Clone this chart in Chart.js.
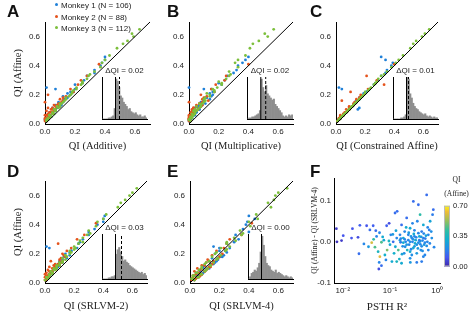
<!DOCTYPE html>
<html>
<head>
<meta charset="utf-8">
<script src="https://cdn.jsdelivr.net/npm/chart.js@4.4.1/dist/chart.umd.min.js"></script>
<style>
  body { margin: 0; background: #fff; }
  #fig { position: relative; width: 469px; height: 317px; overflow: hidden; font-family: "Liberation Sans", Arial, sans-serif; }
  #fig canvas { position: absolute; }
  .letter { position: absolute; font-weight: bold; font-size: 17px; line-height: 1; color: #111; }
  .leg { position: absolute; left: 55px; font-size: 8px; line-height: 1; color: #222; white-space: nowrap; }
  .leg i { display: inline-block; width: 3px; height: 3px; border-radius: 50%; margin-right: 3px; vertical-align: middle; position: relative; top: -1px; }
</style>
</head>
<body>
<div id="fig"></div>
<script>
const monkeys = ["Monkey 1 (N = 106)", "Monkey 2 (N = 88)", "Monkey 3 (N = 112)"];
const monkeyColors = ["#1f80d8", "#e5531c", "#7cbf3b"];

// QI (Affine) per neuron, y axis of panels A-E
const affineM1 = [0.25,0.24,0.46,0.44,0.42,0.40,0.37,0.35,0.33,0.30,0.28,0.27,0.24,0.22,0.21,0.20,0.19,0.18,0.17,0.16,0.15,0.14,0.13,0.12,0.11,0.10,0.09,0.08,0.07,0.06,0.05,0.04,0.03,0.02,
                  0.15,0.12,0.10,0.09,0.08,0.07,0.06,0.05,0.04,0.03,0.13,0.11,0.18,0.22];
const affineM2 = [0.41,0.33,0.30,0.27,0.24,0.22,0.20,0.19,0.17,0.16,0.15,0.14,0.13,0.12,0.11,0.10,0.10,0.09,0.08,0.08,0.07,0.06,0.06,0.05,0.05,0.04,0.04,0.03,0.02,0.02,
                  0.18,0.15,0.13,0.12,0.11,0.09,0.08,0.07,0.06,0.05,0.04,0.03,0.10,0.14];
const affineM3 = [0.65,0.62,0.60,0.57,0.55,0.52,0.47,0.44,0.42,0.39,0.36,0.34,0.31,0.29,0.27,0.25,0.24,0.22,0.21,0.19,0.18,0.17,0.15,0.14,0.13,0.12,0.11,0.10,0.09,0.08,0.07,0.06,0.05,0.04,0.03,0.02,
                  0.33,0.28,0.23,0.20,0.16,0.14,0.12,0.10,0.09,0.07,0.06,0.05,0.04,0.03];

// QI of the compared model, same neuron order
const additiveM1 = [0.01,0.07,0.40,0.40,0.38,0.37,0.33,0.33,0.28,0.26,0.25,0.20,0.20,0.19,0.15,0.17,0.12,0.15,0.13,0.12,0.12,0.10,0.11,0.09,0.08,0.07,0.07,0.05,0.05,0.03,0.04,0.02,0.02,0.01,
                    0.09,0.10,0.06,0.07,0.03,0.06,0.02,0.04,0.01,0.00,0.07,0.05,0.14,0.17];
const additiveM2 = [0.36,0.28,0.24,0.22,0.17,0.19,0.02,0.14,0.10,0.12,0.00,0.09,0.08,0.07,0.02,0.05,0.07,0.01,0.04,0.05,0.02,0.03,0.00,0.02,0.03,0.01,0.02,0.00,0.01,0.00,
                    0.12,0.11,0.06,0.09,0.05,0.06,0.03,0.05,0.01,0.03,0.00,0.01,0.04,0.10];
const additiveM3 = [0.63,0.58,0.59,0.55,0.52,0.48,0.43,0.40,0.38,0.37,0.33,0.30,0.28,0.25,0.24,0.21,0.21,0.18,0.18,0.16,0.14,0.14,0.12,0.10,0.10,0.08,0.09,0.06,0.07,0.05,0.06,0.03,0.04,0.02,0.02,0.01,
                    0.29,0.25,0.19,0.17,0.13,0.11,0.10,0.07,0.07,0.05,0.03,0.04,0.02,0.01];

const multM1 = [0.00,0.10,0.40,0.38,0.36,0.33,0.32,0.30,0.26,0.24,0.20,0.22,0.15,0.17,0.14,0.16,0.15,0.12,0.14,0.10,0.09,0.11,0.07,0.08,0.06,0.07,0.04,0.05,0.03,0.04,0.02,0.02,0.01,0.00,
                0.08,0.06,0.07,0.03,0.05,0.02,0.03,0.01,0.02,0.00,0.09,0.04,0.11,0.16];
const multM2 = [0.40,0.25,0.24,0.18,0.15,0.17,0.08,0.12,0.09,0.13,0.00,0.07,0.09,0.05,0.03,0.04,0.06,0.02,0.01,0.03,0.02,0.00,0.01,0.00,0.01,0.00,0.01,0.00,0.00,0.01,
                0.10,0.09,0.05,0.08,0.03,0.04,0.02,0.03,0.01,0.01,0.00,0.00,0.02,0.07];
const multM3 = [0.57,0.51,0.53,0.47,0.43,0.41,0.38,0.33,0.31,0.33,0.27,0.28,0.25,0.20,0.22,0.19,0.16,0.17,0.12,0.14,0.11,0.10,0.10,0.07,0.08,0.05,0.07,0.04,0.03,0.04,0.02,0.03,0.01,0.02,0.00,0.01,
                0.27,0.22,0.17,0.14,0.11,0.09,0.08,0.06,0.05,0.04,0.03,0.02,0.01,0.00];

const constrM1 = [0.02,0.04,0.31,0.34,0.39,0.38,0.35,0.34,0.31,0.29,0.27,0.26,0.23,0.21,0.19,0.19,0.18,0.17,0.16,0.14,0.14,0.13,0.12,0.11,0.16,0.15,0.08,0.07,0.06,0.05,0.04,0.03,0.02,0.01,
                  0.13,0.11,0.09,0.08,0.07,0.06,0.05,0.04,0.03,0.02,0.12,0.10,0.16,0.21];
const constrM2 = [0.40,0.21,0.28,0.33,0.22,0.10,0.17,0.17,0.14,0.04,0.13,0.13,0.12,0.09,0.10,0.07,0.09,0.08,0.06,0.07,0.05,0.05,0.03,0.04,0.03,0.03,0.02,0.02,0.01,0.01,
                  0.16,0.13,0.12,0.11,0.09,0.08,0.07,0.06,0.05,0.04,0.03,0.02,0.09,0.12];
const constrM3 = [0.64,0.61,0.59,0.55,0.53,0.51,0.46,0.43,0.41,0.38,0.35,0.33,0.29,0.28,0.26,0.24,0.23,0.20,0.20,0.18,0.17,0.16,0.14,0.13,0.12,0.11,0.10,0.09,0.08,0.07,0.06,0.05,0.04,0.03,0.02,0.01,
                  0.31,0.27,0.22,0.19,0.15,0.13,0.11,0.09,0.08,0.06,0.05,0.04,0.03,0.02];

const srlvm2M1 = [0.01,0.03,0.41,0.40,0.40,0.36,0.34,0.30,0.30,0.26,0.24,0.23,0.22,0.18,0.17,0.14,0.17,0.13,0.15,0.12,0.10,0.12,0.09,0.10,0.07,0.08,0.06,0.05,0.04,0.04,0.03,0.02,0.01,0.01,
                  0.12,0.08,0.08,0.06,0.05,0.05,0.03,0.03,0.02,0.01,0.10,0.09,0.14,0.18];
const srlvm2M2 = [0.35,0.27,0.22,0.09,0.18,0.15,0.12,0.13,0.11,0.10,0.04,0.10,0.07,0.06,0.03,0.06,0.05,0.02,0.04,0.03,0.01,0.03,0.00,0.02,0.01,0.00,0.02,0.01,0.00,0.01,
                  0.14,0.12,0.09,0.10,0.07,0.07,0.05,0.05,0.03,0.03,0.02,0.01,0.06,0.11];
const srlvm2M3 = [0.63,0.60,0.58,0.55,0.52,0.50,0.42,0.40,0.36,0.35,0.30,0.31,0.26,0.24,0.23,0.20,0.21,0.17,0.18,0.14,0.15,0.12,0.12,0.10,0.10,0.08,0.08,0.06,0.06,0.04,0.05,0.03,0.03,0.01,0.02,0.00,
                  0.29,0.26,0.20,0.17,0.14,0.12,0.10,0.08,0.07,0.05,0.05,0.03,0.02,0.02];

const srlvm4M1 = [0.16,0.20,0.40,0.44,0.39,0.38,0.36,0.40,0.31,0.33,0.30,0.25,0.27,0.20,0.25,0.17,0.23,0.22,0.15,0.19,0.13,0.17,0.14,0.10,0.13,0.09,0.11,0.07,0.09,0.05,0.06,0.05,0.02,0.03,
                  0.18,0.10,0.13,0.07,0.10,0.05,0.08,0.04,0.05,0.02,0.16,0.09,0.21,0.24];
const srlvm4M2 = [0.42,0.35,0.27,0.25,0.23,0.18,0.22,0.15,0.19,0.12,0.16,0.11,0.15,0.08,0.14,0.08,0.05,0.11,0.03,0.10,0.06,0.04,0.08,0.02,0.07,0.06,0.02,0.04,0.01,0.03,
                  0.20,0.13,0.15,0.10,0.13,0.07,0.10,0.05,0.08,0.03,0.05,0.02,0.12,0.16];
const srlvm4M3 = [0.66,0.60,0.58,0.57,0.53,0.55,0.45,0.46,0.40,0.41,0.34,0.36,0.30,0.31,0.25,0.27,0.21,0.24,0.18,0.21,0.15,0.19,0.13,0.16,0.10,0.14,0.08,0.12,0.06,0.10,0.04,0.07,0.02,0.05,0.01,0.03,
                  0.35,0.25,0.25,0.17,0.18,0.11,0.14,0.08,0.11,0.05,0.08,0.03,0.06,0.02];

// inset histograms of dQI = QI(Affine) - QI(model)
const binStart = -0.0675, binWidth = 0.0075, histTop = 40;
const histAdditive = [0,0,0,0,1,1,2,3,10,38,36,30,22,20,16,14,12,9,10,7,6,5,6,4,3,4,2,2,3,1];
const histMult     = [0,1,1,2,2,3,4,5,8,38,30,26,32,24,22,20,18,19,14,12,10,8,6,3,2,3,2,4,3,4];
const histConstr   = [0,0,0,0,0,1,1,2,4,40,38,24,20,15,12,10,9,7,6,5,4,5,3,2,3,2,1,2,1,1];
const histSrlvm2   = [0,0,0,0,1,1,2,2,3,22,26,28,24,20,16,17,15,14,12,11,10,9,8,7,6,5,6,4,5,3];
const histSrlvm4   = [0,2,5,6,8,7,10,14,24,38,30,20,14,12,11,8,7,6,8,5,6,5,4,3,2,3,2,1,2,1];
const meanDelta = [0.02, 0.024, 0.01, 0.03, 0.0];

// panel F
const psthR2 = [0.0073,0.0075,0.0094,0.0102,0.0153,0.016,0.021,0.023,0.022,0.028,0.032,0.0375,0.041,0.044,0.048,0.050,0.052,0.056,0.061,0.059,0.058,0.066,0.066,0.074,0.078,0.082,0.085,0.087,0.096,0.100,0.104,0.110,0.117,0.122,0.128,0.134,0.139,0.142,0.150,0.158,0.163,0.168,0.176,0.186,0.192,0.200,0.205,0.215,0.226,0.232,0.245,0.255,0.267,0.280,0.290,0.300,0.313,0.320,0.330,0.350,0.370,0.380,0.400,0.400,0.420,0.435,0.450,0.470,0.490,0.510,0.530,0.550,0.580,0.600,0.620,0.650,0.680,0.710,0.770,0.800,0.830,0.860,0.510,0.470,0.267,0.176,0.139,0.205,0.226,0.245,0.267,0.290,0.313,0.330,0.370,0.400,0.435,0.470,0.510,0.550,0.163,0.192,0.267,0.370,0.650,
                0.17,0.21,0.25,0.28,0.31,0.34,0.36,0.39,0.42,0.44,0.46,0.49,0.52,0.56,0.60,0.63,0.70,0.75,0.13,0.115,0.095,0.07,0.06,0.045,0.035,0.30,0.27,0.22,0.18,0.33];
const qiDiff = [0.032,0.000,0.003,0.015,0.009,0.032,0.011,0.040,-0.029,-0.005,0.039,0.029,-0.002,0.039,-0.013,0.027,0.013,-0.024,-0.036,-0.050,-0.066,-0.058,-0.001,0.004,-0.032,-0.044,0.039,-0.020,0.045,-0.007,0.017,-0.048,0.000,-0.028,0.070,0.027,0.009,0.074,-0.020,-0.042,0.017,-0.001,0.041,-0.011,0.009,-0.028,0.025,0.000,0.058,-0.020,0.004,-0.007,0.033,0.013,-0.032,0.000,0.098,0.019,-0.011,0.004,-0.050,0.050,0.090,-0.002,0.013,0.066,-0.020,0.025,0.003,0.041,-0.007,-0.032,0.015,0.114,0.000,-0.020,0.029,0.050,0.009,0.066,0.078,-0.013,-0.036,-0.048,-0.040,-0.052,-0.048,0.006,-0.007,0.017,0.000,0.009,-0.015,0.013,-0.007,0.021,0.001,-0.011,0.009,-0.002,0.004,-0.002,-0.024,-0.028,0.017,
                0.008,-0.012,0.022,-0.018,0.006,-0.004,0.011,-0.016,0.004,-0.006,0.012,-0.022,0.020,0.008,-0.010,0.035,-0.004,0.025,-0.012,0.018,0.002,0.012,0.022,0.006,-0.012,0.045,-0.050,0.035,-0.030,0.028];
const qiAffineF = [0.05,0.03,0.05,0.10,0.10,0.10,0.08,0.12,0.15,0.20,0.10,0.15,0.60,0.12,0.45,0.15,0.20,0.35,0.62,0.20,0.08,0.15,0.45,0.30,0.32,0.20,0.12,0.50,0.08,0.30,0.20,0.30,0.15,0.32,0.15,0.28,0.20,0.15,0.45,0.33,0.20,0.18,0.15,0.22,0.30,0.22,0.20,0.20,0.15,0.35,0.20,0.20,0.30,0.25,0.22,0.20,0.15,0.30,0.25,0.30,0.18,0.20,0.15,0.22,0.30,0.40,0.22,0.18,0.20,0.30,0.25,0.20,0.28,0.15,0.20,0.20,0.18,0.28,0.22,0.18,0.15,0.20,0.20,0.18,0.22,0.30,0.35,0.20,0.25,0.20,0.22,0.20,0.30,0.20,0.22,0.20,0.25,0.22,0.18,0.20,0.25,0.30,0.30,0.25,0.20,
                   0.20,0.22,0.25,0.20,0.22,0.30,0.20,0.25,0.18,0.20,0.25,0.22,0.20,0.18,0.22,0.20,0.20,0.22,0.30,0.25,0.35,0.30,0.20,0.40,0.25,0.20,0.25,0.30,0.28,0.20];
const qiMax = 0.7;

const SANS = "'Liberation Sans', Arial, sans-serif";
const SERIF = "'Liberation Serif', 'Times New Roman', serif";
Chart.defaults.font.family = SANS;
Chart.defaults.color = "#222";

const fig = document.getElementById("fig");

function addCanvas(left, top, w, h) {
  const cv = document.createElement("canvas");
  cv.width = w; cv.height = h;
  cv.style.left = left + "px"; cv.style.top = top + "px";
  cv.style.width = w + "px"; cv.style.height = h + "px";
  fig.appendChild(cv);
  return cv;
}

function addText(cls, left, top, html) {
  const d = document.createElement("div");
  d.className = cls;
  d.style.left = left + "px"; d.style.top = top + "px";
  d.innerHTML = html;
  fig.appendChild(d);
}

const parulaStops = [
  [0.00, [62, 38, 168]], [0.15, [70, 88, 240]], [0.30, [35, 140, 232]],
  [0.45, [18, 175, 205]], [0.60, [50, 190, 160]], [0.75, [150, 191, 92]],
  [0.90, [240, 188, 55]], [1.00, [249, 250, 20]]
];
function parula(t) {
  t = Math.max(0, Math.min(1, t));
  for (let i = 1; i < parulaStops.length; i++) {
    const [t1, c1] = parulaStops[i];
    const [t0, c0] = parulaStops[i - 1];
    if (t <= t1) {
      const f = (t - t0) / (t1 - t0);
      const c = c0.map((v, k) => Math.round(v + (c1[k] - v) * f));
      return `rgb(${c[0]},${c[1]},${c[2]})`;
    }
  }
  return "rgb(249,250,20)";
}

const plainScale = {
  grid: { display: false, drawTicks: false },
  border: { display: true, color: "#000", width: 1 }
};

function scatterPanel(p) {
  const cv = addCanvas(p.left, p.top, p.width, p.height);
  const affine = [affineM1, affineM2, affineM3];
  const datasets = [{
    type: "line", data: [{x: 0, y: 0}, {x: 0.7, y: 0.7}],
    borderColor: "#000", borderWidth: 1, pointRadius: 0, clip: false, order: 0
  }];
  monkeys.forEach((name, m) => {
    datasets.push({
      label: name,
      data: p.xs[m].map((x, i) => ({x: x, y: affine[m][i]})),
      backgroundColor: monkeyColors[m], borderWidth: 0, pointRadius: 1.4,
      clip: false, order: 3 - m
    });
  });
  new Chart(cv, {
    type: "scatter",
    data: { datasets },
    options: {
      responsive: false, animation: false, devicePixelRatio: 1,
      layout: { padding: { top: p.area.t - p.top, right: p.left + p.width - p.area.r, left: 0, bottom: 0 } },
      plugins: { legend: { display: false }, tooltip: { enabled: false } },
      scales: {
        x: {
          ...plainScale, type: "linear", min: 0, max: 0.7,
          ticks: { stepSize: 0.2, includeBounds: false, padding: 3, font: { size: 8 }, callback: v => v.toFixed(1) },
          title: { display: true, text: p.xTitle, font: { family: SERIF, size: 10.5 }, color: "#222",
                   padding: { top: 0, bottom: p.xTitlePad } },
          afterFit: s => { s.height = p.top + p.height - p.area.b; }
        },
        y: {
          ...plainScale, type: "linear", min: 0, max: 0.7,
          ticks: { stepSize: 0.2, includeBounds: false, padding: 5, font: { size: 8 }, callback: v => v.toFixed(1) },
          title: { display: !!p.yTitle, text: p.yTitle || "", font: { family: SERIF, size: 10.5 }, color: "#222",
                   padding: { top: 12, bottom: 0 } },
          afterFit: s => { s.width = p.area.l - p.left; }
        }
      }
    }
  });
}

function insetPanel(box, counts, mean) {
  const pad = 1, titleH = 14;
  const cv = addCanvas(box.l - pad, box.t - titleH, box.r - box.l + 2 * pad, box.b - box.t + titleH + pad);
  new Chart(cv, {
    type: "bar",
    data: { datasets: [
      { type: "line", data: [{x: 0, y: 0}, {x: 0, y: histTop}], borderColor: "#000", borderWidth: 1, pointRadius: 0, order: 0 },
      { type: "line", data: [{x: mean, y: 0}, {x: mean, y: histTop}], borderColor: "#000", borderWidth: 1,
        borderDash: [3, 2], pointRadius: 0, order: 0 },
      { data: counts.map((c, i) => ({x: binStart + binWidth * (i + 0.5), y: c})),
        backgroundColor: "#8e8e8e", borderWidth: 0, barPercentage: 1, categoryPercentage: 1, order: 1 }
    ]},
    options: {
      responsive: false, animation: false, devicePixelRatio: 1,
      layout: { padding: { left: pad, right: pad, top: 0, bottom: pad } },
      plugins: {
        legend: { display: false }, tooltip: { enabled: false },
        title: { display: true, text: "\u0394QI = " + mean.toFixed(2), font: { size: 8, weight: "normal" }, color: "#222",
                 padding: { top: 2.5, bottom: 1.9 } }
      },
      scales: {
        x: { ...plainScale, type: "linear", offset: false, min: binStart, max: binStart + binWidth * counts.length,
             ticks: { display: false }, afterFit: s => { s.height = 0; } },
        y: { ...plainScale, min: 0, max: histTop, ticks: { display: false }, afterFit: s => { s.width = 0; } }
      }
    }
  });
}

// top row
scatterPanel({ left: 0, top: 0, width: 155, height: 155, area: {l: 45, t: 22, r: 150, b: 124},
  xs: [additiveM1, additiveM2, additiveM3], xTitle: "QI (Additive)", yTitle: "QI (Affine)", xTitlePad: 2.7 });
scatterPanel({ left: 155, top: 0, width: 155, height: 155, area: {l: 189, t: 22, r: 293, b: 124},
  xs: [multM1, multM2, multM3], xTitle: "QI (Multiplicative)", xTitlePad: 2.7 });
scatterPanel({ left: 310, top: 0, width: 159, height: 155, area: {l: 336, t: 22, r: 438, b: 124},
  xs: [constrM1, constrM2, constrM3], xTitle: "QI (Constrained Affine)", xTitlePad: 2.7 });
// bottom row
scatterPanel({ left: 0, top: 155, width: 155, height: 162, area: {l: 45, t: 181, r: 147, b: 283},
  xs: [srlvm2M1, srlvm2M2, srlvm2M3], xTitle: "QI (SRLVM-2)", yTitle: "QI (Affine)", xTitlePad: 4 });
scatterPanel({ left: 155, top: 155, width: 155, height: 162, area: {l: 190, t: 181, r: 293, b: 283},
  xs: [srlvm4M1, srlvm4M2, srlvm4M3], xTitle: "QI (SRLVM-4)", xTitlePad: 4 });

insetPanel({l: 102, t: 77, r: 147, b: 119}, histAdditive, meanDelta[0]);
insetPanel({l: 247, t: 77, r: 293, b: 119}, histMult, meanDelta[1]);
insetPanel({l: 393, t: 77, r: 438, b: 119}, histConstr, meanDelta[2]);
insetPanel({l: 102, t: 234, r: 147, b: 279}, histSrlvm2, meanDelta[3]);
insetPanel({l: 248, t: 234, r: 293, b: 279}, histSrlvm4, meanDelta[4]);

// panel F
const supMap = {"-": "\u207B", "0": "\u2070", "1": "\u00B9", "2": "\u00B2"};
new Chart(addCanvas(310, 155, 159, 162), {
  type: "scatter",
  data: { datasets: [{
    data: psthR2.map((x, i) => ({x: x, y: qiDiff[i]})),
    pointBackgroundColor: qiAffineF.map(q => parula(q / qiMax)),
    pointBorderWidth: 0, pointRadius: 1.4, clip: false
  }]},
  options: {
    responsive: false, animation: false, devicePixelRatio: 1,
    layout: { padding: { top: 23, right: 29, left: 0, bottom: 0 } },
    plugins: { legend: { display: false }, tooltip: { enabled: false } },
    scales: {
      x: {
        ...plainScale, type: "logarithmic", min: 0.0065, max: 1.15,
        ticks: { autoSkip: false, maxRotation: 0, padding: 3, font: { size: 8 },
          callback: v => {
            const e = Math.log10(v);
            if (Math.abs(e - Math.round(e)) > 1e-6) return "";
            return "10" + String(Math.round(e)).split("").map(ch => supMap[ch]).join("");
          } },
        title: { display: true, text: "PSTH R\u00B2", font: { family: SERIF, size: 11 }, color: "#222",
                 padding: { top: 0, bottom: 3.4 } },
        afterFit: s => { s.height = 34; }
      },
      y: {
        ...plainScale, type: "linear", min: -0.1, max: 0.155,
        ticks: { stepSize: 0.1, includeBounds: false, padding: 3, font: { size: 8 }, callback: v => v.toFixed(1) },
        title: { display: true, text: "QI (Affine) - QI (SRLVM-4)", font: { family: SERIF, size: 7.5 }, color: "#222",
                 padding: { top: 0.5, bottom: 0 } },
        afterFit: s => { s.width = 24; }
      }
    }
  }
});

// colorbar for panel F
const colorbarFill = {
  id: "colorbarFill",
  beforeDatasetsDraw(chart) {
    const {ctx, chartArea: a, scales: {y}} = chart;
    const g = ctx.createLinearGradient(0, y.getPixelForValue(0), 0, y.getPixelForValue(qiMax));
    for (let i = 0; i <= 20; i++) g.addColorStop(i / 20, parula(i / 20));
    ctx.save();
    ctx.fillStyle = g;
    ctx.fillRect(a.left, a.top, a.right - a.left, a.bottom - a.top);
    ctx.strokeStyle = "#bbb"; ctx.lineWidth = 1;
    ctx.strokeRect(a.left + 0.5, a.top + 0.5, a.right - a.left - 1, a.bottom - a.top - 1);
    ctx.restore();
  }
};
new Chart(addCanvas(440, 172, 29, 102), {
  type: "scatter",
  data: { datasets: [] },
  plugins: [colorbarFill],
  options: {
    responsive: false, animation: false, devicePixelRatio: 1,
    layout: { padding: { top: 0, right: 0, left: 4, bottom: 6 } },
    plugins: {
      legend: { display: false }, tooltip: { enabled: false },
      title: { display: true, text: ["QI", "(Affine)"], font: { family: SERIF, size: 7.5, weight: "normal", lineHeight: 1.85 },
               color: "#222", padding: { top: 1, bottom: 5 } }
    },
    scales: {
      x: { display: false, min: 0, max: 1 },
      y: { position: "right", min: 0, max: qiMax, grid: { display: false, drawTicks: false }, border: { display: false },
           ticks: { stepSize: 0.35, padding: 3, font: { size: 7.5 }, callback: v => v.toFixed(2) },
           afterFit: s => { s.width = 19; } }
    }
  }
});

// panel letters and legend
[["A", 7, 3], ["B", 167, 3], ["C", 310, 3], ["D", 7, 163], ["E", 167, 163], ["F", 310, 163]]
  .forEach(([t, x, y]) => addText("letter", x, y, t));
monkeys.forEach((name, m) => {
  addText("leg", 55, [2, 13.5, 25][m], `<i style="background:${monkeyColors[m]}"></i>${name}`);
});
</script>
</body>
</html>
